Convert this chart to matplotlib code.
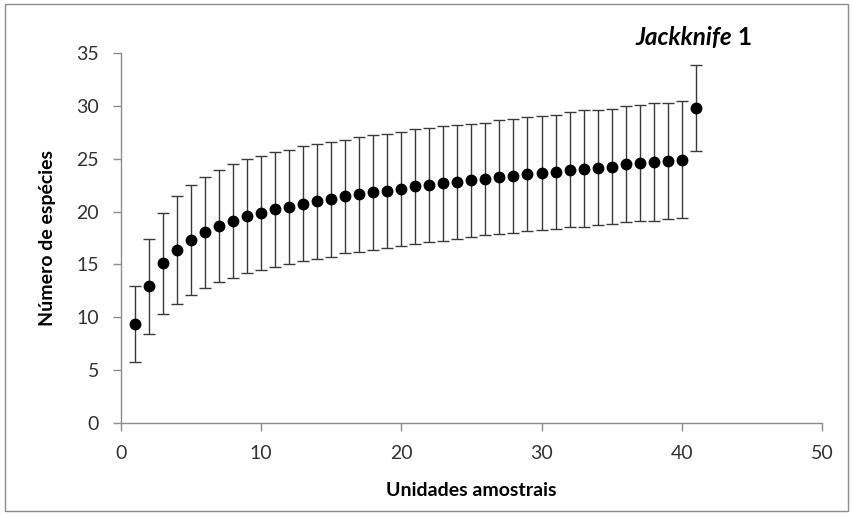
import matplotlib
matplotlib.use('Agg')
import matplotlib.pyplot as plt
from matplotlib.patches import Rectangle

plt.rcParams['font.family'] = ['Lato', 'DejaVu Sans']

# =========================================================
# DADOS
# =========================================================
unidades = list(range(1, 42))

especies = [9.4, 12.95, 15.1, 16.4, 17.35, 18.07, 18.6, 19.13, 19.56, 19.87,
            20.2, 20.43, 20.76, 20.96, 21.17, 21.43, 21.64, 21.83, 21.96, 22.17,
            22.39, 22.52, 22.7, 22.8, 22.95, 23.08, 23.26, 23.37, 23.57, 23.66,
            23.76, 23.97, 24.07, 24.16, 24.25, 24.5, 24.6, 24.72, 24.8, 24.9,
            29.84]

desvio = [3.6, 4.5, 4.8, 5.1, 5.2, 5.25, 5.3, 5.4, 5.4, 5.43,
          5.42, 5.4, 5.47, 5.43, 5.46, 5.38, 5.46, 5.44, 5.38, 5.38,
          5.47, 5.38, 5.44, 5.35, 5.37, 5.32, 5.38, 5.42, 5.41, 5.37,
          5.38, 5.47, 5.5, 5.47, 5.46, 5.5, 5.48, 5.6, 5.49, 5.55,
          4.07]

x_ticks = [0, 10, 20, 30, 40, 50]
y_ticks = [0, 5, 10, 15, 20, 25, 30, 35]

# =========================================================
# GRÁFICO
# =========================================================
fig = plt.figure(figsize=(8.53, 5.15), dpi=100)
ax = fig.add_axes([0.1415, 0.1786, 0.8222, 0.7184])

ax.errorbar(unidades, especies, yerr=desvio, fmt='o', color='black',
            markersize=7.5, ecolor='#3a3a3a', elinewidth=1.0,
            capsize=4.3, capthick=1.0)

ax.set_xlim(0, 50)
ax.set_ylim(0, 35)
ax.set_xticks(x_ticks)
ax.set_yticks(y_ticks)

for s in ['top', 'right']:
    ax.spines[s].set_visible(False)
for s in ['left', 'bottom']:
    ax.spines[s].set_color('#8c8c8c')
    ax.spines[s].set_linewidth(1.0)

ax.tick_params(axis='both', direction='out', length=5.5, width=1,
               color='#8c8c8c', labelsize=14, labelcolor='#333333')
ax.tick_params(axis='y', pad=10)
ax.tick_params(axis='x', pad=10)

ax.set_xlabel('Unidades amostrais', fontsize=14, fontweight='bold', labelpad=15)
ax.set_ylabel('Número de espécies', fontsize=14, fontweight='bold', labelpad=15)

# Rótulo Jackknife 1
t1 = ax.text(36.7, 36.5, 'Jackknife', fontsize=17.5, fontweight='bold',
             fontstyle='italic', ha='left', va='center', clip_on=False)
ax.annotate(' 1', xy=(1, 0), xycoords=t1, fontsize=17.5, fontweight='bold',
            ha='left', va='bottom')

# Moldura da figura
fig.patches.append(Rectangle((0.006, 0.008), 0.988, 0.984, transform=fig.transFigure,
                             fill=False, edgecolor='#8c8c8c', linewidth=1.0))

plt.savefig('out.png', dpi=100)
